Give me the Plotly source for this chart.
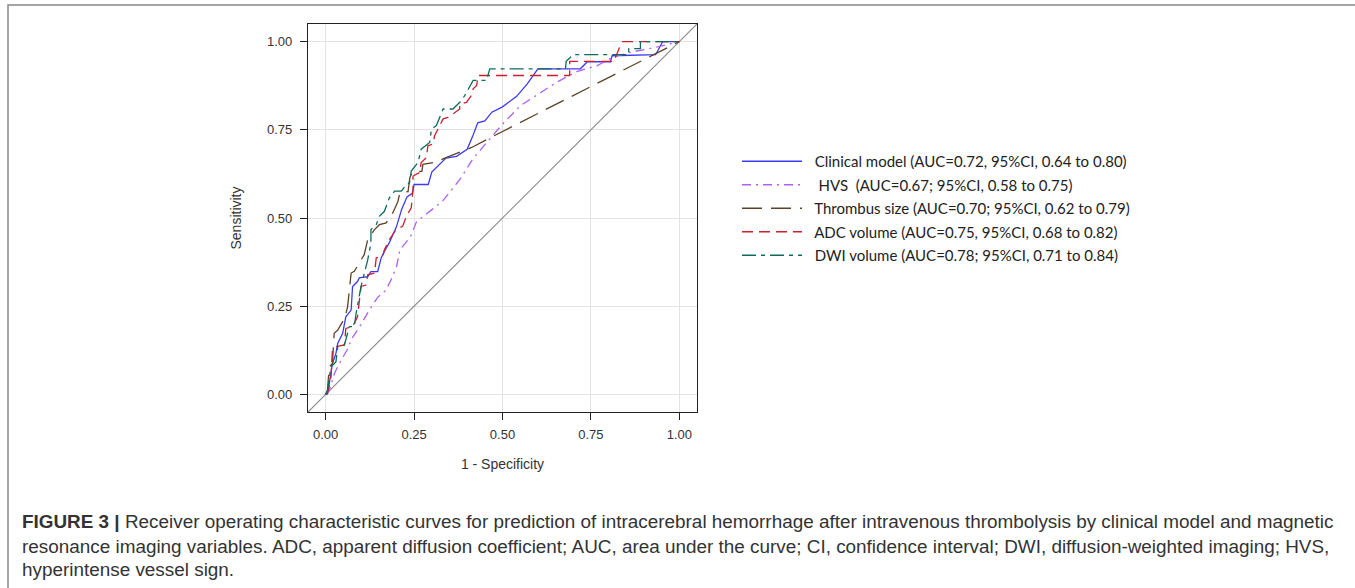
import plotly.graph_objects as go

# ---------------- data ----------------
clin_x = [0, 0.005, 0.01, 0.019, 0.029, 0.034, 0.048, 0.057, 0.072, 0.076, 0.09, 0.095, 0.119, 0.128, 0.147,
          0.157, 0.166, 0.18, 0.20, 0.215, 0.23, 0.245, 0.25, 0.29, 0.30, 0.316, 0.34, 0.37, 0.40, 0.415,
          0.43, 0.45, 0.47, 0.50, 0.54, 0.57, 0.59, 0.60, 0.72, 0.74, 0.805, 0.81, 0.933, 0.953, 1.0]
clin_y = [0, 0.002, 0.03, 0.087, 0.116, 0.144, 0.173, 0.22, 0.239, 0.306, 0.32, 0.33, 0.334, 0.348, 0.348,
          0.387, 0.405, 0.43, 0.475, 0.525, 0.56, 0.57, 0.595, 0.595, 0.63, 0.645, 0.67, 0.675, 0.695, 0.73,
          0.77, 0.775, 0.80, 0.815, 0.845, 0.88, 0.91, 0.923, 0.923, 0.943, 0.943, 0.96, 0.963, 1.0, 1.0]

hvs_x = [0, 0.01, 0.025, 0.04, 0.06, 0.075, 0.095, 0.124, 0.147, 0.17, 0.185, 0.20, 0.21, 0.24, 0.257, 0.29,
         0.33, 0.38, 0.416, 0.456, 0.50, 0.55, 0.60, 0.655, 0.71, 0.768, 0.814, 0.862, 0.939, 1.0]
hvs_y = [0, 0.01, 0.06, 0.09, 0.125, 0.16, 0.19, 0.24, 0.275, 0.295, 0.325, 0.36, 0.41, 0.447, 0.49, 0.515,
         0.547, 0.61, 0.667, 0.715, 0.766, 0.818, 0.85, 0.886, 0.915, 0.932, 0.957, 0.97, 0.985, 1.0]

thr_x = [0, 0.005, 0.01, 0.019, 0.024, 0.034, 0.048, 0.053, 0.062, 0.072, 0.081, 0.095, 0.109, 0.119, 0.128,
         0.138, 0.152, 0.171, 0.18, 0.19, 0.204, 0.21, 0.233, 0.238, 0.246, 0.272, 0.275, 0.309, 0.342, 0.413,
         0.464, 1.0]
thr_y = [0, 0.01, 0.078, 0.087, 0.173, 0.182, 0.206, 0.211, 0.249, 0.344, 0.349, 0.372, 0.396, 0.439, 0.453,
         0.467, 0.481, 0.486, 0.50, 0.515, 0.546, 0.572, 0.575, 0.615, 0.632, 0.632, 0.652, 0.658, 0.672, 0.70,
         0.727, 1.0]

adc_x = [0, 0.005, 0.015, 0.019, 0.029, 0.053, 0.057, 0.076, 0.09, 0.10, 0.114, 0.119, 0.138, 0.143, 0.161,
         0.166, 0.18, 0.199, 0.218, 0.228, 0.242, 0.247, 0.247, 0.266, 0.27, 0.285, 0.289, 0.303, 0.308, 0.318,
         0.332, 0.346, 0.365, 0.379, 0.379, 0.398, 0.412, 0.417, 0.427, 0.431, 0.69, 0.69, 0.815, 0.835, 0.84,
         1.0]
adc_y = [0, 0.002, 0.049, 0.125, 0.135, 0.14, 0.187, 0.192, 0.22, 0.306, 0.31, 0.339, 0.344, 0.387, 0.391,
         0.41, 0.439, 0.467, 0.477, 0.505, 0.529, 0.581, 0.619, 0.629, 0.657, 0.671, 0.705, 0.709, 0.733, 0.752,
         0.781, 0.785, 0.80, 0.809, 0.823, 0.828, 0.847, 0.866, 0.876, 0.904, 0.904, 0.944, 0.944, 0.994, 1.0,
         1.0]

dwi_x = [0, 0.005, 0.015, 0.029, 0.034, 0.053, 0.067, 0.081, 0.086, 0.095, 0.10, 0.119, 0.128, 0.128, 0.143,
         0.152, 0.166, 0.18, 0.195, 0.214, 0.228, 0.237, 0.242, 0.261, 0.27, 0.294, 0.299, 0.313, 0.332, 0.36,
         0.384, 0.393, 0.408, 0.417, 0.455, 0.464, 0.678, 0.68, 0.70, 0.857, 0.857, 0.89, 0.89, 1.0]
dwi_y = [0, 0.011, 0.078, 0.092, 0.135, 0.14, 0.192, 0.192, 0.23, 0.28, 0.306, 0.382, 0.429, 0.467, 0.481,
         0.505, 0.519, 0.557, 0.576, 0.576, 0.595, 0.60, 0.633, 0.657, 0.695, 0.714, 0.752, 0.762, 0.809, 0.809,
         0.833, 0.847, 0.876, 0.89, 0.89, 0.923, 0.923, 0.944, 0.963, 0.963, 0.98, 0.98, 1.0, 1.0]

diag = [-0.05, 1.05]

NB = "\u00a0"
names = [
    NB * 2 + "Clinical model (AUC=0.72, 95%CI, 0.64 to 0.80)",
    NB * 3 + "HVS" + NB * 2 + "(AUC=0.67; 95%CI, 0.58 to 0.75)",
    NB * 2 + "Thrombus size (AUC=0.70; 95%CI, 0.62 to 0.79)",
    NB * 2 + "ADC volume (AUC=0.75, 95%CI, 0.68 to 0.82)",
    NB * 2 + "DWI volume (AUC=0.78; 95%CI, 0.71 to 0.84)",
]
ticks = [0, 0.25, 0.5, 0.75, 1.0]
tick_text = ["0.00", "0.25", "0.50", "0.75", "1.00"]

caption = [
    "<b>FIGURE 3 |</b> Receiver operating characteristic curves for prediction of intracerebral hemorrhage after intravenous thrombolysis by clinical model and magnetic",
    "resonance imaging variables. ADC, apparent diffusion coefficient; AUC, area under the curve; CI, confidence interval; DWI, diffusion-weighted imaging; HVS,",
    "hyperintense vessel sign.",
]

# ---------------- figure ----------------
W, H = 1355, 588
L, R, T, B = 308, W - 697, 24, H - 412
pw, ph = W - L - R, H - T - B

def px(x):
    return (x - L) / pw

def py(y):
    return (H - B - y) / ph

fig = go.Figure()

fig.add_trace(go.Scatter(x=diag, y=diag, mode="lines", showlegend=False, hoverinfo="skip",
                         line=dict(color="#8c8c8c", width=1.2)))

styles = [
    (clin_x, clin_y, "#3b3bf5", "solid"),
    (hvs_x, hvs_y, "#b060f0", "9px,5px,2px,5px"),
    (thr_x, thr_y, "#5e4326", "20px,9px"),
    (adc_x, adc_y, "#cc1f2e", "11px,6px"),
    (dwi_x, dwi_y, "#0f6b5c", "14px,5px,4px,5px"),
]
for i, ((xs, ys, c, d), nm) in enumerate(zip(styles, names)):
    fig.add_trace(go.Scatter(x=xs, y=ys, mode="lines", name=nm, legendgroup=str(i),
                             line=dict(color=c, width=1.3, dash=d)))

axis_common = dict(range=[-0.05, 1.05], tickvals=ticks, ticktext=tick_text, showgrid=True,
                   gridcolor="#e3e3e3", gridwidth=1, zeroline=False, showline=True, mirror=True,
                   linecolor="#222", linewidth=1.2, ticks="outside", ticklen=7, tickcolor="#222",
                   tickfont=dict(family="Liberation Sans, Arial", size=13, color="#333"))

fig.update_xaxes(**axis_common, ticklabelstandoff=3,
                 title=dict(text="1 - Specificity", standoff=18,
                            font=dict(family="Liberation Sans, Arial", size=14, color="#333")))
fig.update_yaxes(**axis_common, ticklabelstandoff=5,
                 title=dict(text="Sensitivity", standoff=22,
                            font=dict(family="Liberation Sans, Arial", size=14, color="#333")))

fig.update_layout(
    width=W, height=H,
    margin=dict(l=L, r=R, t=T, b=B, pad=0),
    paper_bgcolor="white", plot_bgcolor="white",
    legend=dict(x=px(737), y=py(145), xanchor="left", yanchor="top",
                font=dict(family="Lato, Open Sans, sans-serif", size=15, color="#222"),
                itemwidth=60, traceorder="grouped", tracegroupgap=1,
                bgcolor="rgba(0,0,0,0)"),
    shapes=[dict(type="rect", xref="paper", yref="paper", x0=px(8), x1=px(1370), y0=py(600), y1=py(5),
                 line=dict(color="#888", width=1.5), fillcolor="rgba(0,0,0,0)", layer="below")],
)

cap_y = [521, 546, 569]
for txt, yy in zip(caption, cap_y):
    fig.add_annotation(text=txt, xref="paper", yref="paper", x=px(20), y=py(yy), xanchor="left",
                       yanchor="middle", showarrow=False, align="left",
                       font=dict(family="Liberation Sans, Arial", size=18.9, color="#333"))

fig.write_html("out.html", config={"displayModeBar": False},
               post_script="document.body.style.margin='0';")
